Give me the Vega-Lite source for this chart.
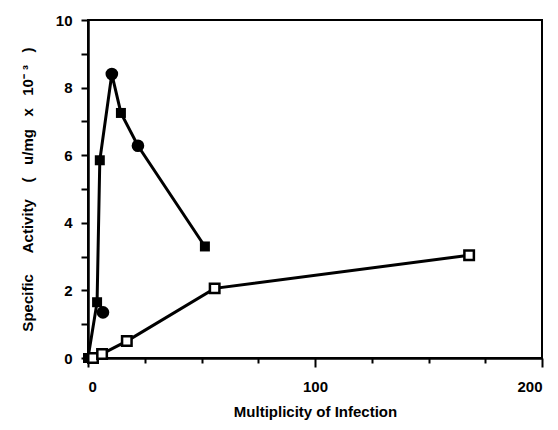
{
  "$schema": "https://vega.github.io/schema/vega-lite/v6.json",
  "width": 454,
  "height": 338,
  "autosize": {"type": "none"},
  "padding": {"left": 88, "top": 20, "right": 16, "bottom": 72},
  "background": "white",
  "config": {
    "view": {"stroke": "black", "strokeWidth": 2},
    "axis": {
      "domainColor": "black",
      "domainWidth": 2.5,
      "tickColor": "black",
      "tickWidth": 2,
      "grid": false,
      "labelFont": "Liberation Sans",
      "labelFontWeight": "bold",
      "labelFontSize": 15,
      "labelColor": "black",
      "titleFont": "Liberation Sans",
      "titleFontWeight": "bold",
      "titleColor": "black"
    }
  },
  "datasets": {
    "pts": [
      {"series": "filled", "x": 0, "y": 0, "shape": "square", "open": false, "line": true},
      {"series": "filled", "x": 4, "y": 1.65, "shape": "square", "open": false, "line": true},
      {"series": "filled", "x": 5.2, "y": 5.85, "shape": "square", "open": false, "line": true},
      {"series": "filled", "x": 10.5, "y": 8.4, "shape": "circle", "open": false, "line": true},
      {"series": "filled", "x": 14.5, "y": 7.25, "shape": "square", "open": false, "line": true},
      {"series": "filled", "x": 22, "y": 6.28, "shape": "circle", "open": false, "line": true},
      {"series": "filled", "x": 51.5, "y": 3.3, "shape": "square", "open": false, "line": true},
      {"series": "single", "x": 6.6, "y": 1.35, "shape": "circle", "open": false, "line": false},
      {"series": "open", "x": 0, "y": 0, "shape": "square", "open": false, "line": true},
      {"series": "open", "x": 2.2, "y": 0, "shape": "square", "open": true, "line": true},
      {"series": "open", "x": 6.2, "y": 0.12, "shape": "square", "open": true, "line": true},
      {"series": "open", "x": 17.1, "y": 0.5, "shape": "square", "open": true, "line": true},
      {"series": "open", "x": 55.8, "y": 2.06, "shape": "square", "open": true, "line": true},
      {"series": "open", "x": 167.9, "y": 3.04, "shape": "square", "open": true, "line": true}
    ]
  },
  "data": {"name": "pts"},
  "encoding": {
    "x": {
      "field": "x",
      "type": "quantitative",
      "scale": {"domain": [0, 200], "nice": false, "zero": false},
      "axis": {
        "values": [0, 25, 50, 75, 100, 125, 150, 175, 200],
        "labelExpr": "datum.value % 100 === 0 ? datum.label : ''",
        "tickSize": {"condition": {"test": "datum.value % 100 === 0", "value": 9}, "value": 5},
        "labelPadding": 12,
        "title": "Multiplicity of Infection",
        "titleFontSize": 15,
        "titlePadding": 10
      }
    },
    "y": {
      "field": "y",
      "type": "quantitative",
      "scale": {"domain": [0, 10], "nice": false},
      "axis": {
        "values": [0, 1, 2, 3, 4, 5, 6, 7, 8, 9, 10],
        "labelExpr": "datum.value % 2 === 0 ? datum.label : ''",
        "tickSize": 7,
        "labelPadding": 9,
        "title": "Specific\u00a0\u00a0\u00a0\u00a0\u00a0Activity\u00a0\u00a0\u00a0\u00a0(\u00a0\u00a0\u00a0u/mg\u00a0\u00a0\u00a0x\u00a0\u00a0\u00a010\u207b\u00a0\u00b3\u00a0\u00a0\u00a0)",
        "titleFontSize": 15,
        "titlePadding": 20
      }
    }
  },
  "layer": [
    {
      "transform": [{"filter": "datum.line"}],
      "mark": {"type": "line", "color": "black", "strokeWidth": 3},
      "encoding": {
        "detail": {"field": "series"},
        "order": {"field": "x", "type": "quantitative"}
      }
    },
    {
      "transform": [{"filter": "!datum.open"}],
      "mark": {"type": "point", "filled": true, "color": "black", "opacity": 1},
      "encoding": {
        "shape": {"field": "shape", "type": "nominal", "scale": {"domain": ["square", "circle"], "range": ["square", "circle"]}, "legend": null},
        "size": {"field": "shape", "type": "nominal", "scale": {"domain": ["square", "circle"], "range": [100, 160]}, "legend": null}
      }
    },
    {
      "transform": [{"filter": "datum.open"}],
      "mark": {"type": "point", "shape": "square", "filled": true, "fill": "white", "stroke": "black", "strokeWidth": 2.5, "size": 90, "opacity": 1}
    }
  ]
}
